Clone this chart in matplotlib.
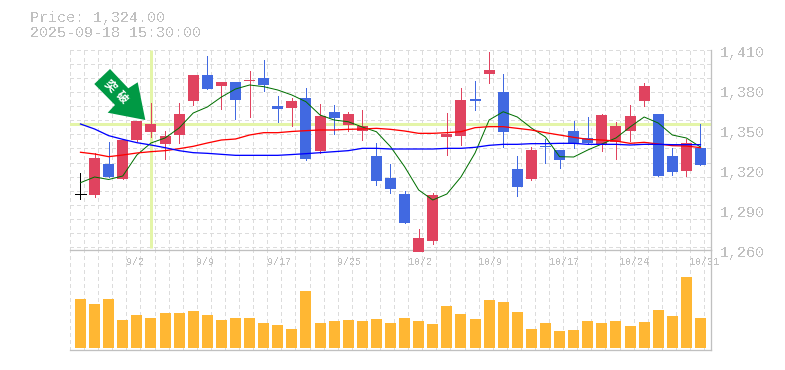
import matplotlib
matplotlib.use('Agg')
import matplotlib.pyplot as plt
import numpy as np
from matplotlib.patches import Polygon, Rectangle

plt.rcParams['font.family'] = ['Liberation Mono', 'DejaVu Sans Mono']
plt.rcParams['text.antialiased'] = False

GREY = '#c0c0c0'
RED = '#e0435f'
BLUE = '#4169e1'
GRID = '#dcdcdc'

title_lines = ['Price: 1,324.00', '2025-09-18 15:30:00']

open_prices = [
    1301.8, 1301.25, 1324.5, 1313.25, 1342.5, 1348.5, 1339.5, 1346.25, 1371.75,
    1391.25, 1383, 1386, 1386.75, 1389, 1368, 1366.5, 1374, 1334.25, 1363.5,
    1353.75, 1349.25, 1330.5, 1314, 1302, 1258.5, 1266.75, 1344.75, 1345.5,
    1373.25, 1392, 1378.5, 1320.75, 1313.25, 1338, 1335, 1349.25, 1344, 1339.5,
    1341, 1349.25, 1371.75, 1362, 1330.5, 1319.25, 1336.5,
]
close_prices = [
    1301.8, 1329, 1314.75, 1342.5, 1356.75, 1354.5, 1345.5, 1362, 1391.25,
    1380.75, 1386, 1372.5, 1387.5, 1383.75, 1365.75, 1371.75, 1328.25, 1360.5,
    1359, 1362, 1353, 1311.75, 1305.75, 1280.25, 1269, 1301.25, 1347, 1372.5,
    1371.75, 1395, 1348.5, 1307.25, 1335, 1337.25, 1327.5, 1339.5, 1340.25,
    1361.25, 1353, 1360.5, 1383, 1315.5, 1318.5, 1340.25, 1323.75,
]
high_prices = [
    1317.8, 1332.5, 1341, 1342.5, 1356.75, 1370, 1349.25, 1370, 1391.25, 1405.5,
    1386, 1386, 1394.25, 1402.5, 1375.5, 1374, 1381.5, 1369.5, 1368.75, 1363.5,
    1365, 1340.25, 1324.5, 1304.25, 1275.75, 1302.75, 1362.75, 1381.5, 1386.75,
    1408.5, 1392, 1330.5, 1337.25, 1343.25, 1335, 1356.75, 1359.75, 1362, 1356,
    1368.75, 1385.25, 1362, 1336.5, 1343.25, 1354.5,
]
low_prices = [
    1298.5, 1299.75, 1314.75, 1313.25, 1342, 1344.75, 1328.25, 1340.25, 1368.75,
    1380.75, 1365.75, 1358.25, 1359.75, 1379.25, 1356, 1353, 1327.5, 1332.75,
    1347, 1349.25, 1342.5, 1308.75, 1302.75, 1280.25, 1258.5, 1264.5, 1331.25,
    1338.75, 1365, 1385.25, 1337.25, 1300.5, 1312.5, 1325.25, 1321.5, 1336.5,
    1340.25, 1334.25, 1328.25, 1341.75, 1368, 1315.5, 1316.25, 1315.5, 1323.75,
]
ma_short = [
    1310.5, 1314.75, 1312.9, 1315.5, 1331.25, 1340.25, 1344, 1351.5, 1362.75,
    1367.25, 1374.75, 1380.75, 1383.75, 1382.5, 1380, 1376.25, 1371.2, 1361.25,
    1357.5, 1356.2, 1352.25, 1348.7, 1337.5, 1322.5, 1305, 1297.5, 1302, 1314.75,
    1332.75, 1357.5, 1363.7, 1359.75, 1351.5, 1344.75, 1330, 1329.75, 1335,
    1339.5, 1344, 1352.25, 1359.75, 1355.25, 1346.25, 1344, 1337.25,
]
ma_mid = [
    1333.3, 1332, 1330, 1331.25, 1332.75, 1333.75, 1334.5, 1336, 1337.75, 1340.25,
    1342.5, 1343.25, 1346.25, 1348, 1348, 1348.9, 1349.5, 1350, 1350, 1350.5,
    1350.75, 1351.25, 1350.5, 1349.25, 1347.5, 1347.5, 1348, 1348.75, 1351.75,
    1352.5, 1352.5, 1351.25, 1350, 1348, 1346.25, 1344.5, 1343, 1342.5, 1341.75,
    1340, 1340.75, 1339.5, 1338.25, 1338, 1336.75,
]
ma_long = [
    1354.5, 1350.75, 1345.75, 1343, 1340.5, 1338.75, 1336.75, 1334.5, 1333, 1332.5,
    1331.75, 1331, 1331, 1331, 1331, 1331.6, 1332.25, 1333, 1333.75, 1334.5,
    1336.25, 1336.25, 1335.75, 1335.75, 1335.75, 1335.75, 1336.25, 1336.25, 1337,
    1338.5, 1339.25, 1339.25, 1339.75, 1339.75, 1340, 1340, 1339.25, 1339.25,
    1339.25, 1338.75, 1339.25, 1339.25, 1339, 1339, 1339,
]
volumes = [
    48.7, 43.7, 48.7, 27.7, 32.7, 29.7, 34.7, 34.7, 36.7, 32.7, 27.7, 29.7, 29.7,
    24.7, 22.7, 18.7, 56.7, 24.7, 26.7, 27.7, 26.7, 28.7, 24.7, 29.7, 26.7, 23.7,
    41.7, 33.7, 28.7, 47.7, 45.7, 35.7, 18.7, 24.7, 16.7, 17.7, 26.7, 24.7, 26.7,
    21.7, 25.7, 37.7, 31.7, 70.7, 29.7,
]
date_ticks = [4, 9, 14, 19, 24, 29, 34, 39, 44]
date_labels = ['9/2', '9/9', '9/17', '9/25', '10/2', '10/9', '10/17', '10/24', '10/31']
price_ticks = [1410, 1380, 1350, 1320, 1290, 1260]
cursor_index = 5
cursor_price = 1354.5

W, H = 785, 370
PX = 0.72  # one pixel in points at dpi 100
fig = plt.figure(figsize=(W / 100, H / 100), dpi=100)
ax_vol = fig.add_axes([70 / W, 1 - 350 / H, 640.5 / W, 100 / H])
ax = fig.add_axes([70 / W, 1 - 250 / H, 640.5 / W, 200 / H])
ax.patch.set_visible(False)

x = np.arange(len(open_prices))
xlim = (-0.745, 44.71)
grid_x = xlim[0] + np.arange(46)

for a in (ax, ax_vol):
    a.set_xlim(*xlim)
    a.set_xticks([])
    a.set_yticks([])
    a.spines['left'].set_visible(False)
    a.spines['top'].set_visible(False)
    for side in ('right', 'bottom'):
        a.spines[side].set_color(GREY)
        a.spines[side].set_linewidth(PX * 1.3)
    a.vlines(grid_x, 0, 1, transform=a.get_xaxis_transform(), color=GRID,
             lw=PX, linestyles=(0, (3, 3)), zorder=0, antialiased=False)

ax.set_ylim(1260, 1410)
ax_vol.set_ylim(-2.3, 97.7)

# horizontal grid of the price pane
ax.hlines(1410 - 10.55 * np.arange(15), 0, 1, transform=ax.get_yaxis_transform(),
          color=GRID, lw=PX, linestyles=(0, (3, 3)), zorder=0, antialiased=False)

# cursor
ax.axhline(cursor_price, color='#e4f5a8', lw=PX * 3, zorder=1)
ax.plot([cursor_index, cursor_index], [1261.5, 1410], color='#e4f5a8', lw=PX * 3,
        zorder=1, solid_capstyle='butt')

for i in x:
    o, c, h, l = open_prices[i], close_prices[i], high_prices[i], low_prices[i]
    color = 'black' if o == c else (RED if c > o else BLUE)
    ax.plot([i, i], [l, h], color=color, lw=PX, zorder=3, antialiased=False,
            solid_capstyle='butt')
    if o == c:
        ax.plot([i - 0.39, i + 0.39], [o, o], color=color, lw=PX, zorder=3, antialiased=False)
    else:
        ax.add_patch(Rectangle((i - 0.39, min(o, c)), 0.78, abs(c - o), facecolor=color,
                               edgecolor='none', zorder=4, clip_on=False))

ax.plot(x, ma_short, color='#006f00', lw=PX, zorder=5)
ax.plot(x, ma_mid, color='#ff0000', lw=PX * 1.3, zorder=5)
ax.plot(x, ma_long, color='#0000ff', lw=PX * 1.3, zorder=5)

ax_vol.bar(x, volumes, width=0.78, color='#ffb733', zorder=2)

for i, label in zip(date_ticks, date_labels):
    ax_vol.annotate(label, xy=(i, 1), xycoords=('data', 'axes fraction'), xytext=(-10.7, -12),
                    textcoords='offset pixels', ha='left', va='center', fontsize=7.2, color=GREY)

for p in price_ticks:
    ax.annotate(f'{p:,}', xy=(1, p), xycoords=('axes fraction', 'data'), xytext=(9.5, -3),
                textcoords='offset pixels', ha='left', va='center', fontsize=10.8,
                color=GREY, annotation_clip=False)

fig.text(30 / W, 1 - 18 / H, title_lines[0], fontsize=10.8, color=GREY, va='center')
fig.text(30 / W, 1 - 33 / H, title_lines[1], fontsize=10.8, color=GREY, va='center')

# signal arrow, placed in figure pixels
arrow = [(110, 69), (128.3, 88.3), (137.7, 82.3), (145.3, 120), (107.7, 112.7), (115, 105), (94.3, 84)]
fig.add_artist(Polygon([(px / W, 1 - py / H) for px, py in arrow], closed=True,
                       transform=fig.transFigure, facecolor='#009944', edgecolor='none', zorder=6))
for s, (px, py) in zip('突破', [(110.7, 85.7), (121.7, 97.7)]):
    fig.text(px / W, 1 - py / H, s, fontsize=8.6, color='white', rotation=-45, ha='center', va='center',
             family=['Noto Sans CJK JP'], fontweight='bold', zorder=7, antialiased=True)

fig.savefig('out.png', dpi=100)
